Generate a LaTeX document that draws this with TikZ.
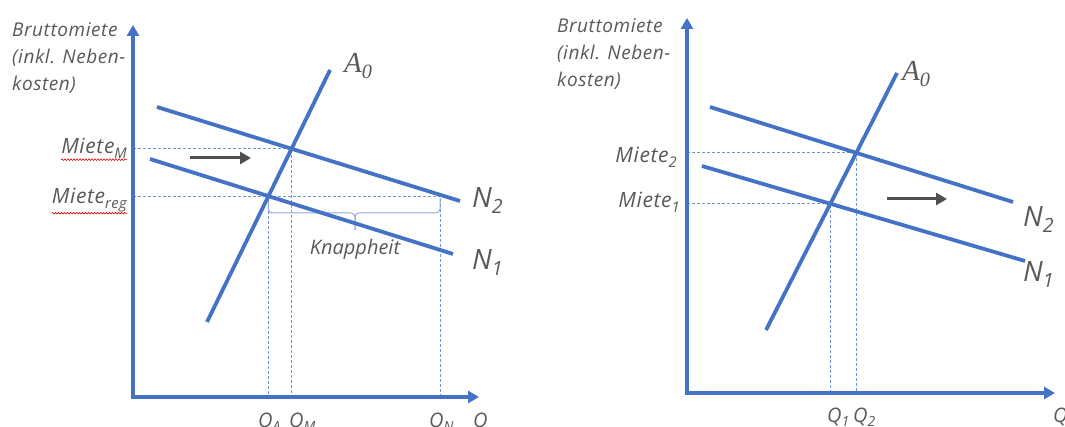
\documentclass[tikz,border=0pt]{standalone}
\usepackage{fontspec}
\setmainfont{Open Sans}
\newfontfamily\curvefont{Liberation Serif}
\usepackage{tikz}
\usetikzlibrary{arrows.meta,calc,decorations.pathmorphing}
\definecolor{axisblue}{RGB}{68,114,196}
\definecolor{guideblue}{RGB}{112,148,214}
\definecolor{bracketblue}{RGB}{143,170,220}
\definecolor{textgray}{RGB}{89,89,89}
\definecolor{shiftgray}{RGB}{80,80,80}
\newcommand{\idx}[1]{\raisebox{-0.4ex}{\scalebox{0.7}{#1}}}
\tikzset{
    axis/.style={line width=3.5pt, axisblue, {Triangle[length=11pt,width=12pt]}-{Triangle[length=11pt,width=12pt]}},
    curve/.style={line width=3.8pt, axisblue},
    guide/.style={line width=0.9pt, guideblue, dash pattern=on 3pt off 2pt},
    bracket/.style={line width=1pt, bracketblue, rounded corners=4pt},
    shiftarrow/.style={line width=3pt, shiftgray, -{Triangle[length=11pt,width=12pt]}},
    axtitle/.style={font=\fontsize{19}{27}\selectfont\itshape\addfontfeatures{LetterSpace=3}, text=textgray, align=left, inner sep=0pt},
    ticklabel/.style={font=\fontsize{20}{24}\selectfont\itshape, text=textgray, inner sep=0pt},
    rentlabel/.style={font=\fontsize{21}{24}\selectfont\itshape\addfontfeatures{LetterSpace=3}, text=textgray, inner sep=0pt},
    curvelabel/.style={font=\fontsize{28}{32}\selectfont\itshape, text=textgray, inner sep=0pt},
    supplylabel/.style={font=\fontsize{29}{32}\selectfont\curvefont\itshape, text=textgray, inner sep=0pt},
    spellmark/.style={red!85!black, line width=0.6pt, decorate, decoration={snake, segment length=3pt, amplitude=0.8pt}},
}

\begin{document}
\begin{tikzpicture}[x=1pt,y=-1pt]
    \useasboundingbox (0,0) rectangle (1065,427);
    % Left diagram: regulated rent
    \coordinate (oL) at (133,397);
    \coordinate (yL) at (133,25);
    \coordinate (xL) at (479,397);
    \coordinate (aL0) at (207,322);
    \coordinate (aL1) at (330,70);
    \coordinate (nL2a) at (157,107);
    \coordinate (nL2b) at (460,201);
    \coordinate (nL1a) at (150,159);
    \coordinate (nL1b) at (453,254);
    \coordinate (qN) at (440,397);
    \coordinate (pM) at (intersection of aL0--aL1 and nL2a--nL2b);
    \coordinate (pA) at (intersection of aL0--aL1 and nL1a--nL1b);
    % guides
    \draw[guide] (pM -| oL) -- (pM) -- (pM |- oL);
    \draw[guide] (pA -| oL) -- (pA -| qN) -- (qN);
    \draw[guide] (pA) -- (pA |- oL);
    % scarcity bracket
    \coordinate (kTip) at (355,230);
    \draw[bracket] ([yshift=-2pt]pA) |- (kTip |- 0,213) -- (kTip);
    \draw[bracket] ([yshift=-2pt]pA -| qN) |- (kTip |- 0,213) -- (kTip);
    % curves and axes
    \draw[curve] (aL0) -- (aL1);
    \draw[curve] (nL2a) -- (nL2b);
    \draw[curve] (nL1a) -- (nL1b);
    \draw[axis] (yL) |- (xL);
    \draw[shiftarrow] (190,158) -- (251,158);
    % labels
    \node[axtitle, anchor=north west] (tL) at (12,22) {Bruttomiete\\(inkl. Neben-\\kosten)};
    \node[rentlabel, anchor=base east] (lmM) at (127,154) {Miete\idx{M}};
    \node[rentlabel, anchor=base east] (lmR) at (127,204) {Miete\idx{reg}};
    \draw[spellmark] ([yshift=-1pt]lmM.south west) -- ([yshift=-1pt]lmM.south east);
    \draw[spellmark] ([yshift=-1pt]lmR.south west) -- ([yshift=-1pt]lmR.south east);
    \node[ticklabel, anchor=base] (knapp) at (355,255) {Knappheit};
    \node[supplylabel, anchor=base west] (lA) at (344,73) {A\idx{0}};
    \node[curvelabel, anchor=base west] (lN2) at (472,208) {N\idx{2}};
    \node[curvelabel, anchor=base west] (lN1) at (472,270) {N\idx{1}};
    \node[ticklabel, anchor=north west] (qA) at (258,413) {Q\idx{A}};
    \node[ticklabel, anchor=north west] (qM) at (289,413) {Q\idx{M}};
    \node[ticklabel, anchor=north west] (qNl) at (429,413) {Q\idx{N}};
    \node[ticklabel, anchor=north west] (qL) at (473,413) {Q};

    % Right diagram: demand shift
    \coordinate (oR) at (687,393);
    \coordinate (yR) at (687,18);
    \coordinate (xR) at (1055,393);
    \coordinate (aR0) at (766,330);
    \coordinate (aR1) at (897,73);
    \coordinate (nR2a) at (710,107);
    \coordinate (nR2b) at (1013,202);
    \coordinate (nR1a) at (702,166);
    \coordinate (nR1b) at (1025,261);
    \coordinate (p2) at (intersection of aR0--aR1 and nR2a--nR2b);
    \coordinate (p1) at (intersection of aR0--aR1 and nR1a--nR1b);
    \draw[guide] (p2 -| oR) -- (p2) -- (p2 |- oR);
    \draw[guide] (p1 -| oR) -- (p1) -- (p1 |- oR);
    \draw[curve] (aR0) -- (aR1);
    \draw[curve] (nR2a) -- (nR2b);
    \draw[curve] (nR1a) -- (nR1b);
    \draw[axis] (yR) |- (xR);
    \draw[shiftarrow] (887,199) -- (947,199);
    \node[axtitle, anchor=north west] (tR) at (557,18) {Bruttomiete\\(inkl. Neben-\\kosten)};
    \node[rentlabel, anchor=base east] (lm2) at (677,163) {Miete\idx{2}};
    \node[rentlabel, anchor=base east] (lm1) at (680,208) {Miete\idx{1}};
    \node[supplylabel, anchor=base west] (rA) at (902,81) {A\idx{0}};
    \node[curvelabel, anchor=base west] (rN2) at (1023,227) {N\idx{2}};
    \node[curvelabel, anchor=base west] (rN1) at (1023,282) {N\idx{1}};
    \node[ticklabel, anchor=north west] (q1) at (827,408) {Q\idx{1}};
    \node[ticklabel, anchor=north west] (q2) at (853,408) {Q\idx{2}};
    \node[ticklabel, anchor=north west] (qR) at (1053,408) {Q};
\end{tikzpicture}
\end{document}
